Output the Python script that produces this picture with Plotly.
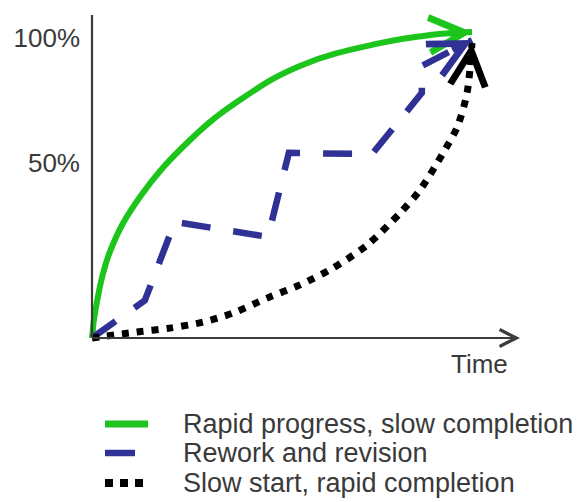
import plotly.graph_objects as go
import math

# ---- data (time fraction, completion fraction) ----
names = ["Rapid progress, slow completion", "Rework and revision", "Slow start, rapid completion"]
colors = ["#1cc41c", "#2f3194", "#000000"]

green_x = [0, 0.010, 0.047, 0.126, 0.258, 0.389, 0.547, 0.758, 0.889, 1.0]
green_y = [0, 0.100, 0.287, 0.470, 0.660, 0.793, 0.907, 0.983, 1.010, 1.02]

blue_x = [0, 0.139, 0.218, 0.463, 0.518, 0.737, 0.868, 0.868, 1.0]
blue_y = [0, 0.125, 0.387, 0.337, 0.617, 0.613, 0.817, 0.907, 0.993]

black_x = [0, 0.118, 0.205, 0.292, 0.371, 0.461, 0.547, 0.634, 0.724, 0.811, 0.863, 0.924, 0.961, 0.987, 1.0]
black_y = [0, 0.020, 0.033, 0.053, 0.083, 0.133, 0.177, 0.233, 0.310, 0.417, 0.493, 0.617, 0.703, 0.817, 0.983]

ytick_vals = [0.583, 1.0]
ytick_text = ["50%", "100%"]
x_label = "Time"

# ---- layout geometry ----
W, H = 577, 502
L, R, T, B = 81, 29, 8, 155
PX_X, PX_Y = 380.0, 300.0
x_range = [-11 / PX_X, 1.2]
y_range = [-9 / PX_Y, 1.1]
pw, ph = W - L - R, H - T - B

def paper_x(px):
    return (px - L) / pw

def paper_y(py):
    return (H - B - py) / ph

FONT = "Liberation Sans, Arial, sans-serif"
TXT = "#3a3a3a"

fig = go.Figure()
fig.add_trace(go.Scatter(x=green_x, y=green_y, mode="lines", name=names[0],
                         line=dict(color=colors[0], width=6, shape="spline", smoothing=1.2)))
fig.add_trace(go.Scatter(x=blue_x, y=blue_y, mode="lines", name=names[1],
                         line=dict(color=colors[1], width=6.5, dash="29px,23px")))
fig.add_trace(go.Scatter(x=black_x, y=black_y, mode="lines", name=names[2],
                         line=dict(color=colors[2], width=7, dash="7px,8px", shape="spline", smoothing=0.8)))

annotations = []
# arrow heads at series ends
for xs, ys, col in [(green_x, green_y, colors[0]), (blue_x, blue_y, colors[1]), (black_x, black_y, colors[2])]:
    dxp = (xs[-1] - xs[-2]) * PX_X
    dyp = (ys[-1] - ys[-2]) * PX_Y
    seg = math.hypot(dxp, dyp)
    t = min(1.0, 22.0 / seg)
    annotations.append(dict(x=xs[-1], y=ys[-1], xref="x", yref="y",
                            ax=xs[-1] - t * (xs[-1] - xs[-2]), ay=ys[-1] - t * (ys[-1] - ys[-2]),
                            axref="x", ayref="y", text="", showarrow=True,
                            font=dict(size=1), borderpad=0, borderwidth=0,
                            arrowhead=5, arrowwidth=6, arrowsize=1.15, arrowcolor=col, standoff=0))
# x axis arrow
annotations.append(dict(x=(520 - 92) / PX_X, y=0, xref="x", yref="y", ax=0, ay=0, axref="x", ayref="y",
                        text="", showarrow=True, font=dict(size=1), borderpad=0,
                        arrowhead=5, arrowwidth=2.2, arrowsize=1.5,
                        arrowcolor="#3c3c3c", standoff=0))
# x label
annotations.append(dict(x=paper_x(479), y=paper_y(364), xref="paper", yref="paper", text=x_label,
                        showarrow=False, xanchor="center", yanchor="middle",
                        font=dict(family=FONT, size=26, color=TXT)))

# manual legend
rows = [424, 453, 483]
shapes = [
    dict(type="line", xref="x", yref="y", x0=0, x1=0, y0=0, y1=(338 - 15) / PX_Y,
         line=dict(color="#3c3c3c", width=2.2, dash="solid")),
    dict(type="line", xref="paper", yref="paper", x0=paper_x(105), x1=paper_x(148),
         y0=paper_y(rows[0]), y1=paper_y(rows[0]), line=dict(color=colors[0], width=7, dash="solid")),
    dict(type="line", xref="paper", yref="paper", x0=paper_x(105), x1=paper_x(135),
         y0=paper_y(rows[1]), y1=paper_y(rows[1]), line=dict(color=colors[1], width=6.5, dash="solid")),
    dict(type="line", xref="paper", yref="paper", x0=paper_x(105), x1=paper_x(143),
         y0=paper_y(rows[2]), y1=paper_y(rows[2]), line=dict(color=colors[2], width=8, dash="8px,7px")),
]
for name, ry in zip(names, rows):
    annotations.append(dict(x=paper_x(181), y=paper_y(ry), xref="paper", yref="paper", text=name,
                            showarrow=False, xanchor="left", yanchor="middle",
                            font=dict(family=FONT, size=27, color=TXT)))

fig.update_layout(
    width=W, height=H,
    margin=dict(l=L, r=R, t=T, b=B, pad=0),
    paper_bgcolor="white", plot_bgcolor="white",
    showlegend=False,
    font=dict(family=FONT, size=26, color=TXT),
    xaxis=dict(range=x_range, showgrid=False, zeroline=False, showline=False,
               showticklabels=False, ticks=""),
    yaxis=dict(range=y_range, showgrid=False, zeroline=False, showline=False, ticks="",
               tickvals=ytick_vals, ticktext=ytick_text, tickfont=dict(family=FONT, size=26, color=TXT)),
    annotations=annotations,
    shapes=shapes,
)

fig.write_html("out.html", config={"displayModeBar": False},
               post_script="document.body.style.margin='0';")
